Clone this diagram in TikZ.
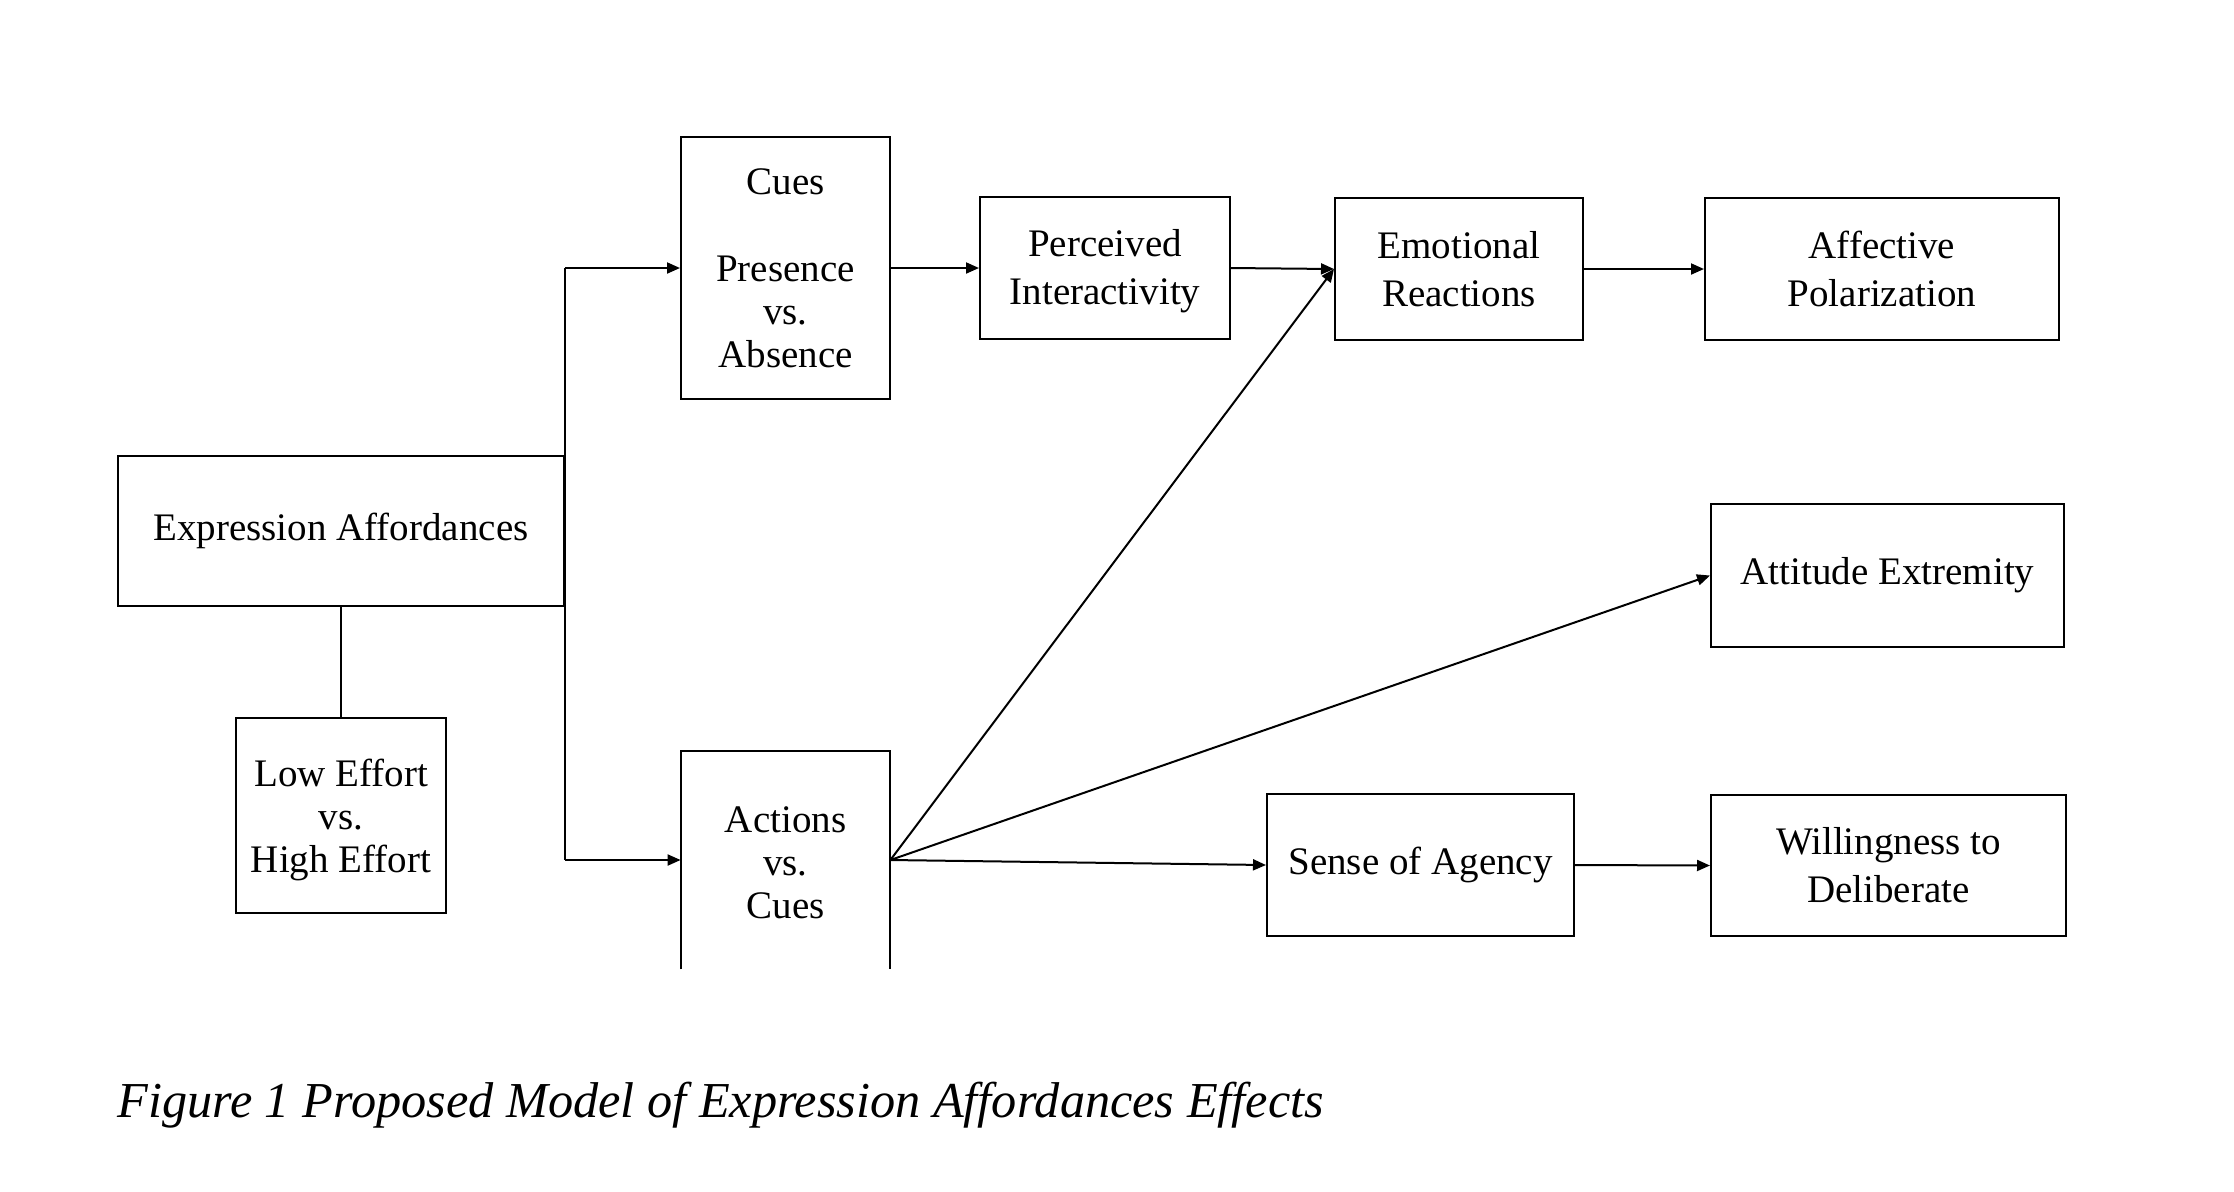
\documentclass[tikz,border=0pt]{standalone}
\usepackage{fontspec}
\setmainfont{Liberation Serif}
\usetikzlibrary{arrows.meta}
\begin{document}
\begin{tikzpicture}[x=0.5pt,y=-0.5pt,
  box/.style={draw, line width=1pt, align=center, inner sep=0pt,
    font=\fontsize{19.5}{21.5}\selectfont},
  frame/.style={draw, line width=1pt, inner sep=0pt},
  txt/.style={align=center, inner sep=0pt, font=\fontsize{19.5}{21.5}\selectfont},
  twoline/.style={box, font=\fontsize{19.5}{24}\selectfont},
  arr/.style={line width=1pt, -{Triangle[length=6.5pt,width=5.5pt]}},
  ln/.style={line width=1pt}]
\useasboundingbox (0,0) rectangle (2234,1191);
\node[box, minimum width=223pt, minimum height=75pt] (ea) at (341,531) {Expression Affordances};
\node[frame, minimum width=105pt, minimum height=97.5pt] (le) at (341,815.5) {};
\node[txt] (letxt) at (341,819.5) {Low Effort\\vs.\\High Effort};
\node[box, minimum width=104.5pt, minimum height=131pt] (cues) at (785.5,268) {Cues\\[22pt]Presence\\vs.\\Absence};
\node[draw=none, inner sep=0pt, minimum width=104.5pt, minimum height=109pt] (act) at (785.5,860) {};
\node[txt] (acttxt) at (785.5,863) {Actions\\vs.\\Cues};
\draw[ln] (act.south west) -- (act.north west) -- (act.north east) -- (act.south east);
\node[frame, minimum width=125pt, minimum height=71pt] (pi) at (1105,268) {};
\node[txt, font=\fontsize{19.5}{24}\selectfont] (pitxt) at (1105,271) {Perceived\\Interactivity};
\node[twoline, minimum width=124pt, minimum height=71pt] (er) at (1459,269) {Emotional\\Reactions};
\node[twoline, minimum width=177pt, minimum height=71pt] (ap) at (1882,269) {Affective\\Polarization};
\node[box, minimum width=176.5pt, minimum height=71.5pt] (ae) at (1887.5,575.5) {Attitude Extremity};
\node[box, minimum width=153.5pt, minimum height=71pt] (soa) at (1420.5,865) {Sense of Agency};
\node[twoline, minimum width=177.5pt, minimum height=70.5pt] (wd) at (1888.5,865.5) {Willingness to\\Deliberate};
\coordinate (top) at (ea.east |- cues.west);
\coordinate (bot) at (ea.east |- act.west);
\draw[ln] (top) -- (bot);
\draw[arr] (top) -- (cues.west);
\draw[arr] (bot) -- (act.west);
\draw[ln] (le.north) -- (ea.south);
\draw[arr] (cues.east) -- (pi.west);
\draw[arr] (pi.east) -- (er.west);
\draw[arr] (act.east) -- (er.west);
\draw[arr] (act.east) -- (ae.west);
\draw[arr] (act.east) -- (soa.west);
\draw[arr] (er.east) -- (ap.west);
\draw[arr] (soa.east) -- (wd.west);
\node[anchor=base west, inner sep=0pt, font=\fontsize{25.15}{30}\selectfont\itshape] (cap) at (117,1117) {Figure 1 Proposed Model of Expression Affordances Effects};
\end{tikzpicture}
\end{document}
